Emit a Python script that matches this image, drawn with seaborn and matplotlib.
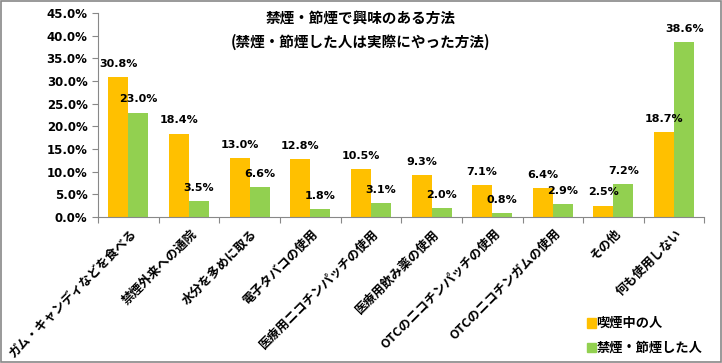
import numpy as np
import pandas as pd
import matplotlib
matplotlib.use('Agg')
import matplotlib.pyplot as plt
import seaborn as sns
from matplotlib.patches import Rectangle

categories = ['ガム・キャンディなどを食べる', '禁煙外来への通院', '水分を多めに取る',
              '電子タバコの使用', '医療用ニコチンパッチの使用', '医療用飲み薬の使用',
              'OTCのニコチンパッチの使用', 'OTCのニコチンガムの使用', 'その他', '何も使用しない']
smokers = [30.8, 18.4, 13.0, 12.8, 10.5, 9.3, 7.1, 6.4, 2.5, 18.7]
quitters = [23.0, 3.5, 6.6, 1.8, 3.1, 2.0, 0.8, 2.9, 7.2, 38.6]
series = ['喫煙中の人', '禁煙・節煙した人']
colors = ['#FFC000', '#92D050']

df = pd.DataFrame({
    'cat': categories * 2,
    'val': smokers + quitters,
    'grp': [series[0]] * len(categories) + [series[1]] * len(categories),
})

sns.set_style('white')
plt.rcParams['font.family'] = ['Noto Sans CJK JP', 'DejaVu Sans']
plt.rcParams['font.weight'] = 'bold'
plt.rcParams['text.color'] = 'black'
plt.rcParams['xtick.color'] = 'black'
plt.rcParams['ytick.color'] = 'black'

fig = plt.figure(figsize=(7.22, 3.63), dpi=100)
ax = fig.add_axes([0.1357, 0.402, 0.840, 0.562])

sns.barplot(data=df, x='cat', y='val', hue='grp', palette=colors,
            width=0.66, saturation=1, linewidth=0, ax=ax, legend=False)

for cont in ax.containers:
    ax.bar_label(cont, fmt='%.1f%%', padding=6, fontsize=8, fontweight='bold',
                 family=['DejaVu Sans'], color='black')

ax.set_ylim(0, 45)
ax.set_yticks(np.arange(0, 46, 5))
ax.set_yticklabels([f'{v:.1f}%' for v in np.arange(0, 46, 5)],
                   fontsize=8.5, fontweight='bold', family=['DejaVu Sans'])
ax.set_xlim(-0.5, len(categories) - 0.5)
ax.set_xticks(np.arange(len(categories) + 1) - 0.5)
ax.set_xticklabels([])
ax.tick_params(axis='x', length=4, color='#888888', direction='out', bottom=True)
ax.tick_params(axis='y', length=4, color='#888888', direction='out', left=True)
for i, c in enumerate(categories):
    ax.text(i + 0.02, -2.2, c, rotation=45, ha='right', va='top',
            rotation_mode='anchor', fontsize=9, fontweight='bold', color='black')
ax.set_xlabel('')
ax.set_ylabel('')
for s in ['top', 'right']:
    ax.spines[s].set_visible(False)
for s in ['left', 'bottom']:
    ax.spines[s].set_color('#888888')
    ax.spines[s].set_linewidth(0.8)

fig.text(0.5, 0.95, '禁煙・節煙で興味のある方法', ha='center', va='center',
         fontsize=10.5, fontweight='bold')
fig.text(0.5, 0.885, '(禁煙・節煙した人は実際にやった方法)', ha='center', va='center',
         fontsize=10.5, fontweight='bold')

for i, (s, col) in enumerate(zip(series, colors)):
    y = 0.11 - i * 0.068
    fig.patches.append(Rectangle((0.813, y - 0.013), 0.012, 0.026,
                                 transform=fig.transFigure, color=col))
    fig.text(0.826, y, s, ha='left', va='center', fontsize=9.5, fontweight='bold')

fig.patches.append(Rectangle((0.002, 0.003), 0.996, 0.994, transform=fig.transFigure,
                             fill=False, edgecolor='#888888', linewidth=1.2))

fig.savefig('out.png', dpi=100)
